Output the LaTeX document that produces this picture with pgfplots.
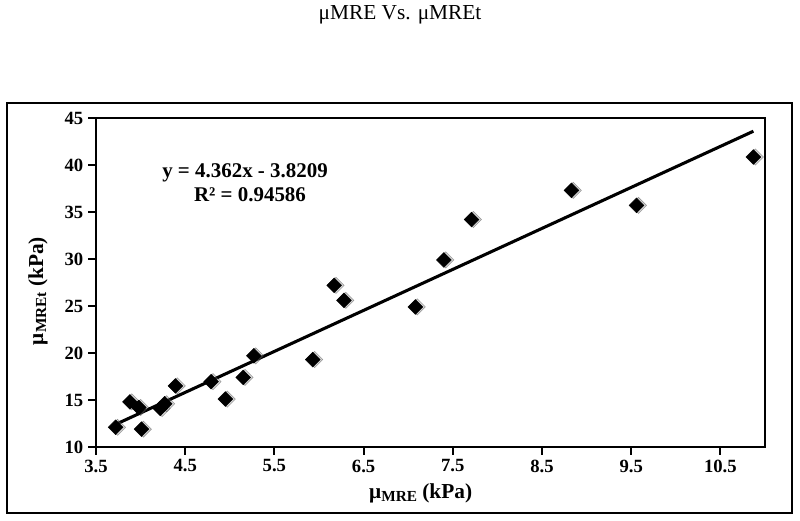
\documentclass[border=0pt]{standalone}
\usepackage{fontspec}
\setmainfont{Liberation Serif}
\usepackage{pgfplots}
\pgfplotsset{compat=1.18}
\newcommand{\sub}[1]{\raisebox{-0.3ex}{\fontsize{11.5}{11.5}\selectfont #1}}
\begin{document}
\begin{tikzpicture}[x=1pt,y=1pt]
\path[use as bounding box] (0,0) rectangle (600,390.75);
\draw[line width=1.6pt] (5.25,6) rectangle (594,313.5);
\node[font=\fontsize{16}{16}\selectfont] at (300,379.5) {μMRE Vs. μMREt};
\begin{axis}[at={(72pt,55.5pt)}, anchor=south west, scale only axis,
  width=501.75pt, height=246.75pt,
  xmin=3.5, xmax=11, ymin=10, ymax=45,
  xtick={3.5,4.5,5.5,6.5,7.5,8.5,9.5,10.5}, ytick={10,15,20,25,30,35,40,45},
  /pgf/number format/assume math mode=true,
  xticklabel style={/pgf/number format/.cd,fixed,fixed zerofill,precision=1},
  ticklabel style={font=\bfseries\fontsize{14}{14}\selectfont},
  axis line style={line width=1.9pt},
  tick style={line width=1.6pt, black},
  tick align=outside, major tick length=6pt, tick pos=left,
  clip=false]
\addplot[line width=2.3pt, no marks] coordinates {(3.713,12.375) (10.87,43.594)};
\addplot[only marks, mark=square*, mark size=4.3pt,
  mark options={rotate=45, fill=black!45, draw=none, opacity=0.35, xshift=1pt, yshift=-1pt}]
  coordinates {
(3.72,12.1) (3.88,14.8) (3.98,14.2) (4.01,11.9) (4.22,14.1) (4.27,14.6)
(4.39,16.5) (4.79,16.95) (4.95,15.1) (5.15,17.4) (5.27,19.7) (5.93,19.3)
(6.17,27.2) (6.28,25.6) (7.08,24.9) (7.40,29.9) (7.71,34.2) (8.83,37.3)
(9.56,35.7) (10.87,40.85)
};
\addplot[only marks, mark=square*, mark size=3.9pt,
  mark options={rotate=45, fill=black, draw=black}]
  coordinates {
(3.72,12.1) (3.88,14.8) (3.98,14.2) (4.01,11.9) (4.22,14.1) (4.27,14.6)
(4.39,16.5) (4.79,16.95) (4.95,15.1) (5.15,17.4) (5.27,19.7) (5.93,19.3)
(6.17,27.2) (6.28,25.6) (7.08,24.9) (7.40,29.9) (7.71,34.2) (8.83,37.3)
(9.56,35.7) (10.87,40.85)
};
\end{axis}
\node[font=\bfseries\fontsize{15.7}{15.7}\selectfont] at (183.75,261) {y = 4.362x - 3.8209};
\node[font=\bfseries\fontsize{15.7}{15.7}\selectfont] at (187.5,244.5) {R² = 0.94586};
\node[font=\bfseries\fontsize{16}{16}\selectfont] at (315.5,21) {μ\sub{MRE} (kPa)};
\node[font=\bfseries\fontsize{16}{16}\selectfont, rotate=90] at (28.5,172.5) {μ\sub{MREt} (kPa)};
\end{tikzpicture}
\end{document}
